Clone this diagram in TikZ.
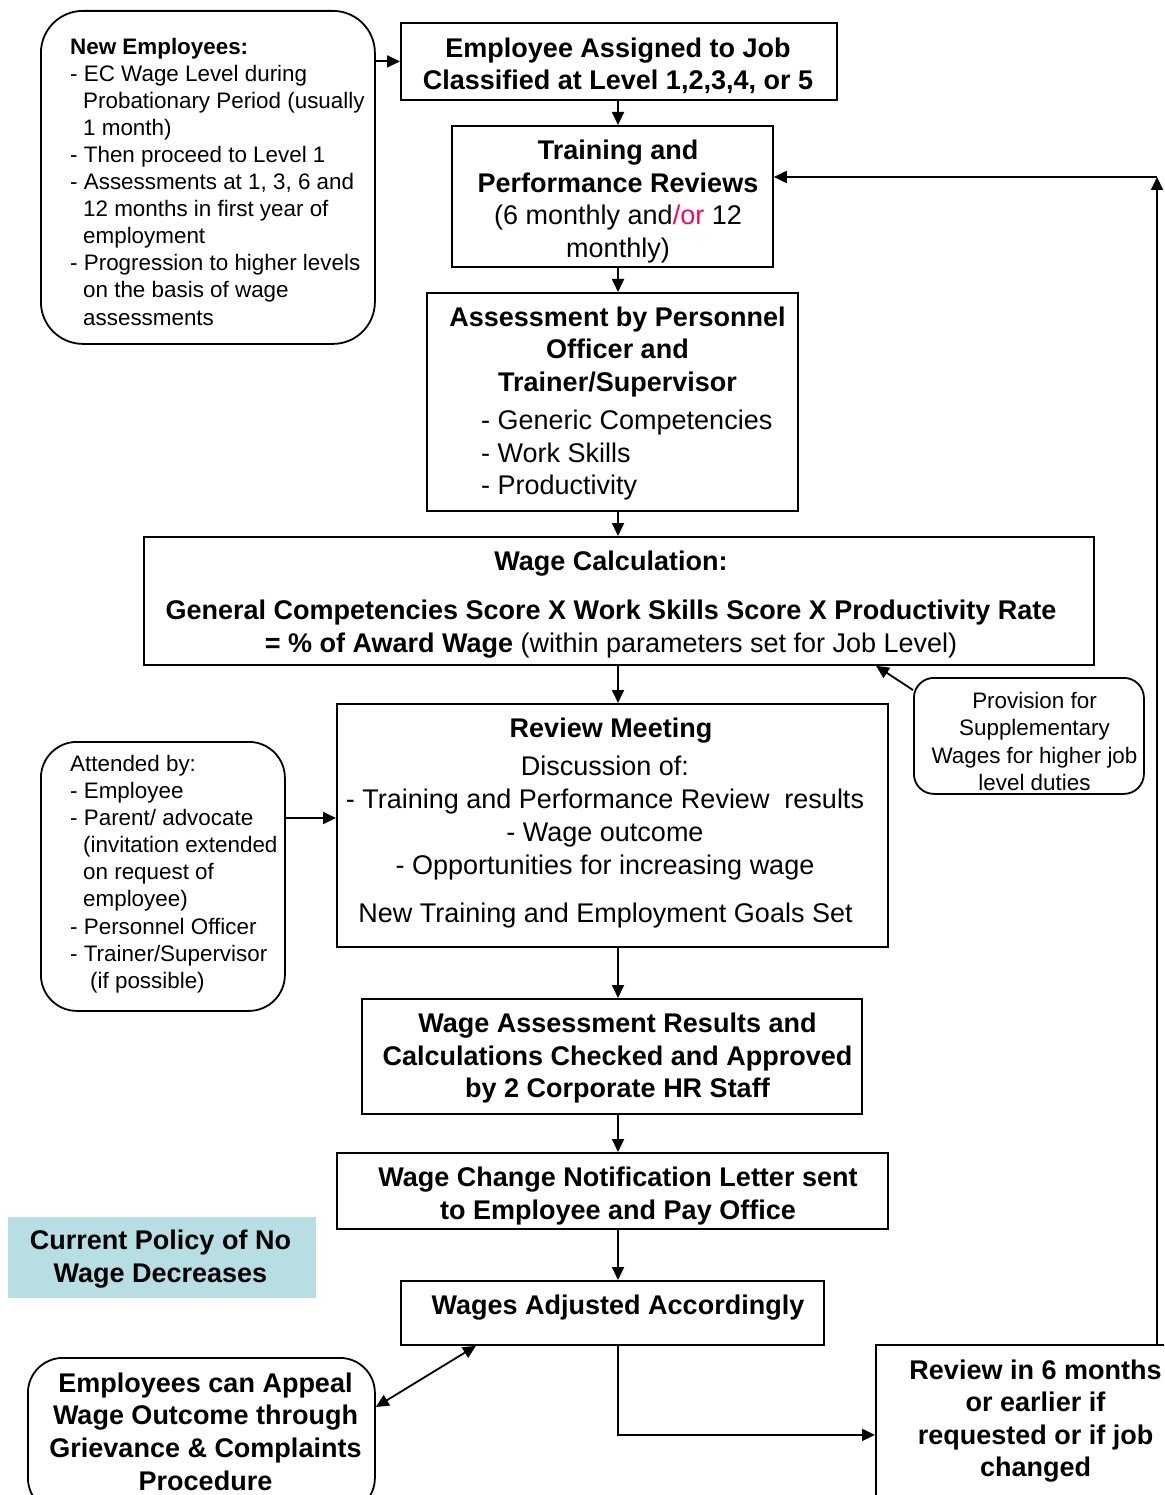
\documentclass[tikz,border=0pt]{standalone}
\usepackage{fontspec}
\setmainfont{Liberation Sans}
\usetikzlibrary{arrows.meta,calc}
\definecolor{policyfill}{HTML}{B7DEE2}
\definecolor{orred}{HTML}{FF0066}
\begin{document}
\begin{tikzpicture}[x=1pt,y=-1pt,
  box/.style={draw, line width=1.8pt, rectangle, inner sep=0pt, anchor=north west},
  rbox/.style={box, rounded corners=#1},
  txt/.style={inner sep=0pt, align=center, font=\fontsize{27}{32.4}\selectfont},
  ltxt/.style={inner sep=0pt, align=left, anchor=west, font=\fontsize{22.4}{27.1}\selectfont},
  stxt/.style={inner sep=0pt, align=center, font=\fontsize{22.4}{27.3}\selectfont},
  arr/.style={line width=1.8pt, -{Triangle[length=13pt,width=12pt]}},
  darr/.style={line width=1.8pt, {Triangle[length=13pt,width=12pt]}-{Triangle[length=13pt,width=12pt]}},
]
\useasboundingbox (0,0) rectangle (1164,1495);
\fill[white] (0,0) rectangle (1164,1495);
\clip (0,0) rectangle (1164,1495);

% ---- boxes ----
\node[rbox=42pt, minimum width=334pt, minimum height=333pt] (newemp) at (40,10) {};
\node[box, minimum width=436pt, minimum height=77pt] (assign) at (400,22) {};
\node[box, minimum width=321pt, minimum height=141pt] (train) at (451,125) {};
\node[box, minimum width=371pt, minimum height=218pt] (assess) at (426,292) {};
\node[box, minimum width=950pt, minimum height=128pt] (wcalc) at (143,536) {};
\node[rbox=20pt, minimum width=230pt, minimum height=116pt] (prov) at (913,677) {};
\node[box, minimum width=551pt, minimum height=243pt] (rm) at (336,703) {};
\node[rbox=36pt, minimum width=244pt, minimum height=269pt] (attend) at (40,741) {};
\node[box, minimum width=500pt, minimum height=115pt] (wassess) at (361,998) {};
\node[box, minimum width=551pt, minimum height=76pt] (wchange) at (336,1152) {};
\node[box, draw=none, fill=policyfill, minimum width=308pt, minimum height=81pt] (policy) at (7,1216) {};
\node[box, minimum width=423pt, minimum height=64pt] (wadj) at (400,1280) {};
\node[rbox=35pt, minimum width=347pt, minimum height=155pt] (appeal) at (27,1357) {};
\node[box, minimum width=320pt, minimum height=180pt] (rev) at (875,1344) {};

% ---- texts ----
\node[ltxt] (newempT) at (70,181.5) {{\bfseries New Employees:}\\
- EC Wage Level during\\
\hspace*{13pt}Probationary Period (usually\\
\hspace*{13pt}1 month)\\
- Then proceed to Level 1\\
- Assessments at 1, 3, 6 and\\
\hspace*{13pt}12 months in first year of\\
\hspace*{13pt}employment\\
- Progression to higher levels\\
\hspace*{13pt}on the basis of wage\\
\hspace*{13pt}assessments};

\node[txt, font=\fontsize{27}{32}\selectfont\bfseries] (assignT) at (618,66)
  {Employee Assigned to Job\\Classified at Level 1,2,3,4, or 5};

\node[txt] (trainT) at (618,201.5)
  {\bfseries Training and\\\bfseries Performance Reviews\\(6 monthly and{\color{orred}/or} 12\\monthly)};

\node[txt, font=\fontsize{27}{32.5}\selectfont\bfseries] (assessT) at (617.5,352)
  {Assessment by Personnel\\Officer and\\Trainer/Supervisor};
\node[ltxt, font=\fontsize{27}{32.5}\selectfont] (assessL) at (481,455.5)
  {- Generic Competencies\\- Work Skills\\- Productivity};

\node[txt] (wcalcT) at (611,563.5) {\bfseries Wage Calculation:};
\node[txt, font=\fontsize{27}{33}\selectfont] (wcalcF) at (611,629.5)
  {\bfseries General Competencies Score X Work Skills Score X Productivity Rate\\
   {\bfseries = \% of Award Wage} (within parameters set for Job Level)};

\node[stxt] (provT) at (1034.5,741.5)
  {Provision for\\Supplementary\\Wages for higher job\\level duties};

\node[txt] (rmT) at (611,730.5) {\bfseries Review Meeting};
\node[txt, font=\fontsize{27}{32.7}\selectfont] (rmL) at (605,818)
  {Discussion of:\\- Training and Performance Review\ \ results\\- Wage outcome\\- Opportunities for increasing wage};
\node[txt] (rmG) at (605.5,916) {New Training and Employment Goals Set};

\node[ltxt] (attendT) at (70,874) {Attended by:\\
- Employee\\
- Parent/ advocate\\
\hspace*{13pt}(invitation extended\\
\hspace*{13pt}on request of\\
\hspace*{13pt}employee)\\
- Personnel Officer\\
- Trainer/Supervisor\\
\hspace*{20pt}(if possible)};

\node[txt, font=\fontsize{27}{32.5}\selectfont\bfseries] (wassessT) at (617.5,1058.5)
  {Wage Assessment Results and\\Calculations Checked and Approved\\by 2 Corporate HR Staff};

\node[txt, font=\fontsize{27}{33}\selectfont\bfseries] (wchangeT) at (618,1196.5)
  {Wage Change Notification Letter sent\\to Employee and Pay Office};

\node[txt, font=\fontsize{27}{33}\selectfont\bfseries] (policyT) at (160.5,1259.5)
  {Current Policy of No\\Wage Decreases};

\node[txt, font=\fontsize{27}{32}\selectfont\bfseries] (wadjT) at (618,1308) {Wages Adjusted Accordingly};

\node[txt, font=\fontsize{27}{32.7}\selectfont\bfseries] (appealT) at (205.5,1431.5)
  {Employees can Appeal\\Wage Outcome through\\Grievance \& Complaints\\Procedure};

\node[txt, font=\fontsize{27}{32.3}\selectfont\bfseries] (revT) at (1035.5,1421)
  {Review in 6 months\\or earlier if\\requested or if job\\changed};

% ---- connectors ----
\coordinate (spine) at (618,0);
\coordinate (loopc) at (1157,177);

\draw[arr] (assign.west -| newemp.east) -- (assign.west);
\draw[arr] (assign.south -| spine) -- (train.north -| spine);
\draw[arr] (train.south -| spine) -- (assess.north -| spine);
\draw[arr] (assess.south -| spine) -- (wcalc.north -| spine);
\draw[arr] (wcalc.south -| spine) -- (rm.north -| spine);
\draw[arr] ($(prov.north west)+(0,13)$) -- ($(wcalc.south west)+(733,0)$);
\draw[arr] ($(attend.north east)+(0,77)$) -- ($(rm.north west)+(0,115)$);
\draw[arr] (rm.south -| spine) -- (wassess.north -| spine);
\draw[arr] (wassess.south -| spine) -- (wchange.north -| spine);
\draw[arr] (wchange.south -| spine) -- (wadj.north -| spine);
\draw[arr] (wadj.south -| spine) |- (rev.west);
\draw[darr] ($(appeal.north east)+(0,50)$) -- ($(wadj.south west)+(76,0)$);
\draw[arr] (rev.north -| loopc) -- (loopc);
\draw[arr] (loopc) -- (loopc -| train.east);
\end{tikzpicture}
\end{document}
